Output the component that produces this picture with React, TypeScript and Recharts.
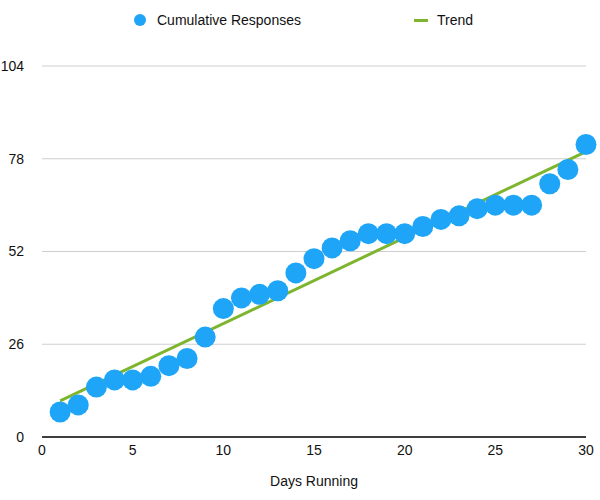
import React from 'react'
import { CartesianGrid, ComposedChart, Legend, Line, Scatter, XAxis, YAxis } from 'recharts'

const days = [
  1, 2, 3, 4, 5, 6, 7, 8, 9, 10, 11, 12, 13, 14, 15,
  16, 17, 18, 19, 20, 21, 22, 23, 24, 25, 26, 27, 28, 29, 30,
]
const responses = [
  7, 9, 14, 16, 16, 17, 20, 22, 28, 36, 39, 40, 41, 46, 50,
  53, 55, 57, 57, 57, 59, 61, 62, 64, 65, 65, 65, 71, 75, 82,
]
const trendDays = [1, 30]
const trendValues = [10.1, 80]
const xTicks = [0, 5, 10, 15, 20, 25, 30]
const yTicks = [0, 26, 52, 78, 104]

const BLUE = '#1ea5f8'
const GREEN = '#7db52f'
const FONT = '"Liberation Sans", Arial, sans-serif'

const scatterData = days.map((d, i) => ({ day: d, responses: responses[i] }))
const trendData = trendDays.map((d, i) => ({ day: d, trend: trendValues[i] }))

const Dot = (props: any) => {
  const { cx, cy } = props
  if (cx == null || cy == null) return null
  return <circle cx={cx} cy={cy} r={10.5} fill={BLUE} />
}

// legend drawn by hand to sit where the original one is
const LegendBox = () => (
  <div style={{ position: 'relative', height: 40, fontFamily: FONT, fontSize: 14, color: '#111' }}>
    <span style={{ position: 'absolute', left: 134, top: 14, width: 12, height: 12, borderRadius: 6, background: BLUE }} />
    <span style={{ position: 'absolute', left: 157, top: 12 }}>Cumulative Responses</span>
    <span style={{ position: 'absolute', left: 414, top: 19, width: 14, height: 3, background: GREEN }} />
    <span style={{ position: 'absolute', left: 437, top: 12 }}>Trend</span>
  </div>
)

export default function App() {
  return (
    <div style={{ position: 'absolute', left: 0, top: 0, width: 600, height: 500, background: '#fff' }}>
      <ComposedChart width={600} height={500} margin={{ top: 26, right: 14, left: 0, bottom: 0 }}>
        <CartesianGrid vertical={false} stroke="#cfcfcf" />
        <XAxis
          type="number"
          dataKey="day"
          domain={[0, 30]}
          ticks={xTicks}
          height={63}
          tickLine={false}
          axisLine={{ stroke: '#3d3d3d', strokeWidth: 2 }}
          tick={{ fill: '#111', fontSize: 14, fontFamily: FONT }}
          label={{ value: 'Days Running', position: 'insideBottom', offset: 14, fill: '#111', fontSize: 14, fontFamily: FONT }}
        />
        <YAxis
          type="number"
          domain={[0, 104]}
          ticks={yTicks}
          width={42}
          axisLine={false}
          tickLine={false}
          tick={{ fill: '#111', fontSize: 14, fontFamily: FONT, dx: -10 }}
        />
        <Legend
          verticalAlign="top"
          align="left"
          wrapperStyle={{ top: 0, left: 0, width: 600 }}
          content={() => <LegendBox />}
        />
        <Scatter
          name="Cumulative Responses"
          data={scatterData}
          dataKey="responses"
          fill={BLUE}
          shape={<Dot />}
          isAnimationActive={false}
        />
        <Line
          name="Trend"
          data={trendData}
          dataKey="trend"
          type="linear"
          stroke={GREEN}
          strokeWidth={3}
          dot={false}
          activeDot={false}
          isAnimationActive={false}
        />
      </ComposedChart>
    </div>
  )
}
